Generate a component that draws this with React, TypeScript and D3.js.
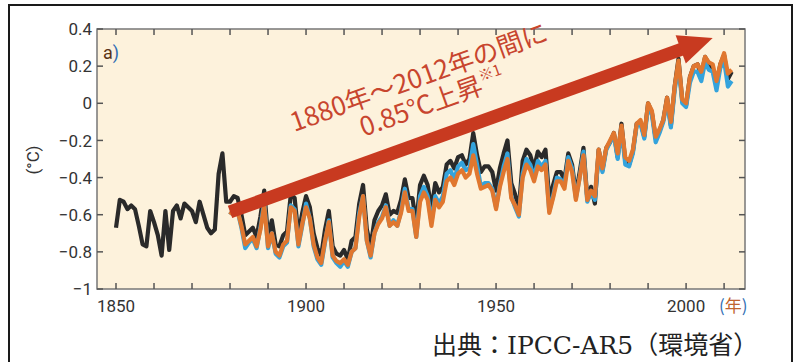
import * as d3 from "d3";

// HadCRUT4-like series (black), 1850-2012
const blackStart = 1850;
const blackValues = [
  -0.67, -0.52, -0.53, -0.57, -0.55, -0.57, -0.66, -0.76, -0.77, -0.58,
  -0.64, -0.71, -0.82, -0.58, -0.79, -0.58, -0.55, -0.62, -0.54, -0.56,
  -0.58, -0.64, -0.53, -0.60, -0.67, -0.70, -0.68, -0.38, -0.27, -0.53,
  -0.53, -0.50, -0.51, -0.60, -0.71, -0.69, -0.67, -0.72, -0.61, -0.47,
  -0.72, -0.63, -0.76, -0.77, -0.71, -0.69, -0.49, -0.51, -0.71, -0.59,
  -0.50, -0.56, -0.70, -0.78, -0.82, -0.68, -0.58, -0.77, -0.81, -0.82,
  -0.79, -0.84, -0.74, -0.72, -0.54, -0.44, -0.68, -0.77, -0.63, -0.58,
  -0.55, -0.49, -0.60, -0.58, -0.59, -0.52, -0.41, -0.51, -0.51, -0.65,
  -0.44, -0.39, -0.44, -0.57, -0.43, -0.48, -0.45, -0.33, -0.31, -0.35,
  -0.29, -0.28, -0.33, -0.30, -0.16, -0.28, -0.37, -0.34, -0.34, -0.37,
  -0.47, -0.35, -0.27, -0.20, -0.43, -0.49, -0.57, -0.31, -0.25, -0.28,
  -0.35, -0.26, -0.29, -0.25, -0.52, -0.44, -0.37, -0.37, -0.41, -0.27,
  -0.33, -0.49, -0.37, -0.24, -0.51, -0.45, -0.54, -0.25, -0.36, -0.24,
  -0.21, -0.16, -0.29, -0.11, -0.31, -0.33, -0.26, -0.11, -0.10, -0.18,
  0.00, -0.05, -0.19, -0.15, -0.09, 0.03, -0.12, 0.09, 0.24, 0.01,
  -0.01, 0.14, 0.20, 0.21, 0.15, 0.25, 0.21, 0.19, 0.10, 0.21,
  0.26, 0.13, 0.17,
];

// blue series, 1880-2012
const blueStart = 1880;
const blueValues = [
  -0.60, -0.57, -0.58, -0.67, -0.78, -0.75, -0.73, -0.78, -0.67, -0.53,
  -0.78, -0.70, -0.81, -0.83, -0.77, -0.75, -0.55, -0.57, -0.77, -0.66,
  -0.54, -0.62, -0.77, -0.84, -0.87, -0.75, -0.63, -0.83, -0.86, -0.88,
  -0.85, -0.88, -0.80, -0.78, -0.59, -0.50, -0.74, -0.83, -0.70, -0.64,
  -0.61, -0.55, -0.66, -0.63, -0.66, -0.58, -0.46, -0.57, -0.57, -0.72,
  -0.50, -0.45, -0.50, -0.64, -0.50, -0.54, -0.50, -0.38, -0.36, -0.41,
  -0.34, -0.32, -0.36, -0.35, -0.22, -0.33, -0.45, -0.43, -0.43, -0.46,
  -0.56, -0.44, -0.34, -0.27, -0.50, -0.56, -0.61, -0.38, -0.30, -0.33,
  -0.40, -0.31, -0.34, -0.31, -0.58, -0.50, -0.40, -0.41, -0.44, -0.29,
  -0.35, -0.51, -0.40, -0.26, -0.53, -0.48, -0.52, -0.27, -0.37, -0.25,
  -0.21, -0.17, -0.30, -0.14, -0.33, -0.34, -0.27, -0.12, -0.11, -0.19,
  -0.02, -0.06, -0.21, -0.16, -0.10, 0.01, -0.13, 0.07, 0.20, 0.00,
  -0.02, 0.11, 0.17, 0.17, 0.12, 0.22, 0.18, 0.17, 0.07, 0.19,
  0.23, 0.09, 0.12,
];

// orange series, 1880-2012
const orangeStart = 1880;
const orangeValues = [
  -0.60, -0.57, -0.58, -0.66, -0.76, -0.74, -0.72, -0.77, -0.68, -0.55,
  -0.77, -0.70, -0.80, -0.82, -0.76, -0.74, -0.56, -0.58, -0.76, -0.65,
  -0.56, -0.62, -0.76, -0.83, -0.86, -0.74, -0.64, -0.82, -0.85, -0.86,
  -0.84, -0.87, -0.80, -0.78, -0.61, -0.50, -0.74, -0.82, -0.70, -0.65,
  -0.62, -0.56, -0.66, -0.64, -0.66, -0.59, -0.48, -0.58, -0.58, -0.72,
  -0.53, -0.48, -0.52, -0.66, -0.52, -0.56, -0.53, -0.42, -0.40, -0.44,
  -0.38, -0.36, -0.40, -0.38, -0.28, -0.38, -0.46, -0.45, -0.44, -0.47,
  -0.57, -0.45, -0.37, -0.30, -0.51, -0.55, -0.60, -0.40, -0.33, -0.36,
  -0.42, -0.34, -0.36, -0.33, -0.59, -0.51, -0.42, -0.42, -0.46, -0.31,
  -0.37, -0.52, -0.40, -0.28, -0.52, -0.47, -0.50, -0.25, -0.35, -0.24,
  -0.20, -0.16, -0.27, -0.12, -0.29, -0.31, -0.25, -0.11, -0.09, -0.17,
  0.00, -0.04, -0.18, -0.14, -0.09, 0.03, -0.10, 0.09, 0.23, 0.02,
  0.00, 0.14, 0.20, 0.21, 0.17, 0.25, 0.22, 0.21, 0.12, 0.21,
  0.27, 0.16, 0.18,
];

const yTicks = [0.4, 0.2, 0, -0.2, -0.4, -0.6, -0.8, -1];
const yTickLabels = ["0.4", "0.2", "0", "−0.2", "−0.4", "−0.6", "−0.8", "−1"];
const xLabelYears = [1850, 1900, 1950, 2000];
const xTickYears = d3.range(1850, 2011, 10);

// trend arrow, 1880 -> ~2007
const arrowFrom = [1880, -0.585];
const arrowTo = [2007, 0.352];

const W = 798;
const H = 362;

const x = d3.scaleLinear().domain([1845, 2015.5]).range([97, 745]);
const y = d3.scaleLinear().domain([-1, 0.4]).range([289, 29]);

function toPoints(start: number, vals: number[]) {
  return vals.map((v, i) => [start + i, v] as [number, number]);
}

const line = d3
  .line<[number, number]>()
  .x((d) => x(d[0]))
  .y((d) => y(d[1]));

export default function App() {
  const [x0, x1] = x.range();
  const [yb, yt] = y.range();

  const ax = x(arrowFrom[0]);
  const ay = y(arrowFrom[1]);
  const tx = x(arrowTo[0]);
  const ty = y(arrowTo[1]);
  const len = Math.hypot(tx - ax, ty - ay);
  const ux = (tx - ax) / len;
  const uy = (ty - ay) / len;
  const headLen = 34;
  const headHalf = 15;
  const bx = tx - ux * headLen;
  const by = ty - uy * headLen;
  const nx = -uy;
  const ny = ux;
  const angle = (Math.atan2(ty - ay, tx - ax) * 180) / Math.PI;

  const tickFont = "Roboto, 'Noto Sans', sans-serif";

  return (
    <svg
      width={W}
      height={H}
      style={{ position: "absolute", left: 0, top: 0, background: "#fff" }}
    >
      <rect x={9} y={5} width={783} height={380} fill="#fff" stroke="#1a1a1a" strokeWidth={2} />

      <rect x={x0} y={yt} width={x1 - x0} height={yb - yt} fill="#fdf2dc" />

      <path d={line(toPoints(blackStart, blackValues)) || ""} fill="none" stroke="#2a2a2a" strokeWidth={4.2} strokeLinejoin="round" />
      <path d={line(toPoints(blueStart, blueValues)) || ""} fill="none" stroke="#34a3dc" strokeWidth={4.2} strokeLinejoin="round" />
      <path d={line(toPoints(orangeStart, orangeValues)) || ""} fill="none" stroke="#e0772f" strokeWidth={4.2} strokeLinejoin="round" />

      {/* frame + ticks */}
      <rect x={x0} y={yt} width={x1 - x0} height={yb - yt} fill="none" stroke="#777" strokeWidth={1.5} />
      {xTickYears.map((yr) => (
        <g key={yr}>
          <line x1={x(yr)} x2={x(yr)} y1={yb} y2={yb - 6} stroke="#555" strokeWidth={1.5} />
          <line x1={x(yr)} x2={x(yr)} y1={yt} y2={yt + 6} stroke="#555" strokeWidth={1.5} />
        </g>
      ))}
      {yTicks.map((v) => (
        <g key={v}>
          <line x1={x0} x2={x0 + 6} y1={y(v)} y2={y(v)} stroke="#555" strokeWidth={1.5} />
          <line x1={x1} x2={x1 - 6} y1={y(v)} y2={y(v)} stroke="#555" strokeWidth={1.5} />
        </g>
      ))}
      {yTicks.map((v, i) => (
        <text key={v} x={x0 - 5} y={y(v)} dy="0.36em" textAnchor="end" fontFamily={tickFont} fontSize={17} fill="#333">
          {yTickLabels[i]}
        </text>
      ))}
      {xLabelYears.map((yr) => (
        <text key={yr} x={x(yr)} y={312} textAnchor="middle" fontFamily={tickFont} fontSize={17} fill="#333">
          {yr}
        </text>
      ))}
      <text x={719} y={312} fontFamily="'Noto Sans CJK JP', sans-serif" fontSize={17}>
        <tspan fill="#2f6db3">(</tspan>
        <tspan fill="#c0622f">年</tspan>
        <tspan fill="#2f6db3">)</tspan>
      </text>

      <text transform="translate(39,160) rotate(-90)" textAnchor="middle" fontFamily={tickFont} fontSize={17} fill="#333">
        (°C)
      </text>

      <text x={103} y={59} fontFamily={tickFont} fontSize={18}>
        <tspan fill="#5a3216">a</tspan>
        <tspan fill="#2f6db3">)</tspan>
      </text>

      {/* trend arrow */}
      <line x1={ax} y1={ay} x2={bx + ux * 2} y2={by + uy * 2} stroke="#c83a20" strokeWidth={13} />
      <polygon
        points={`${tx},${ty} ${bx + nx * headHalf},${by + ny * headHalf} ${bx - nx * headHalf},${by - ny * headHalf}`}
        fill="#c83a20"
      />

      <g transform={`translate(422,86) rotate(${angle})`} fontFamily="'Noto Sans CJK JP', sans-serif" fill="#c8452e">
        <text x={0} y={0} textAnchor="middle" fontSize={26}>
          1880年～2012年の間に
        </text>
        <text x={4} y={28} textAnchor="middle" fontSize={26}>
          0.85℃上昇<tspan fontSize={15} dy={-12}>※1</tspan>
        </text>
      </g>

      <text x={432} y={354} fontFamily="'DejaVu Serif', 'Noto Sans CJK JP', serif" fontSize={25} fill="#222">
        出典：IPCC-AR5（環境省）
      </text>
    </svg>
  );
}
